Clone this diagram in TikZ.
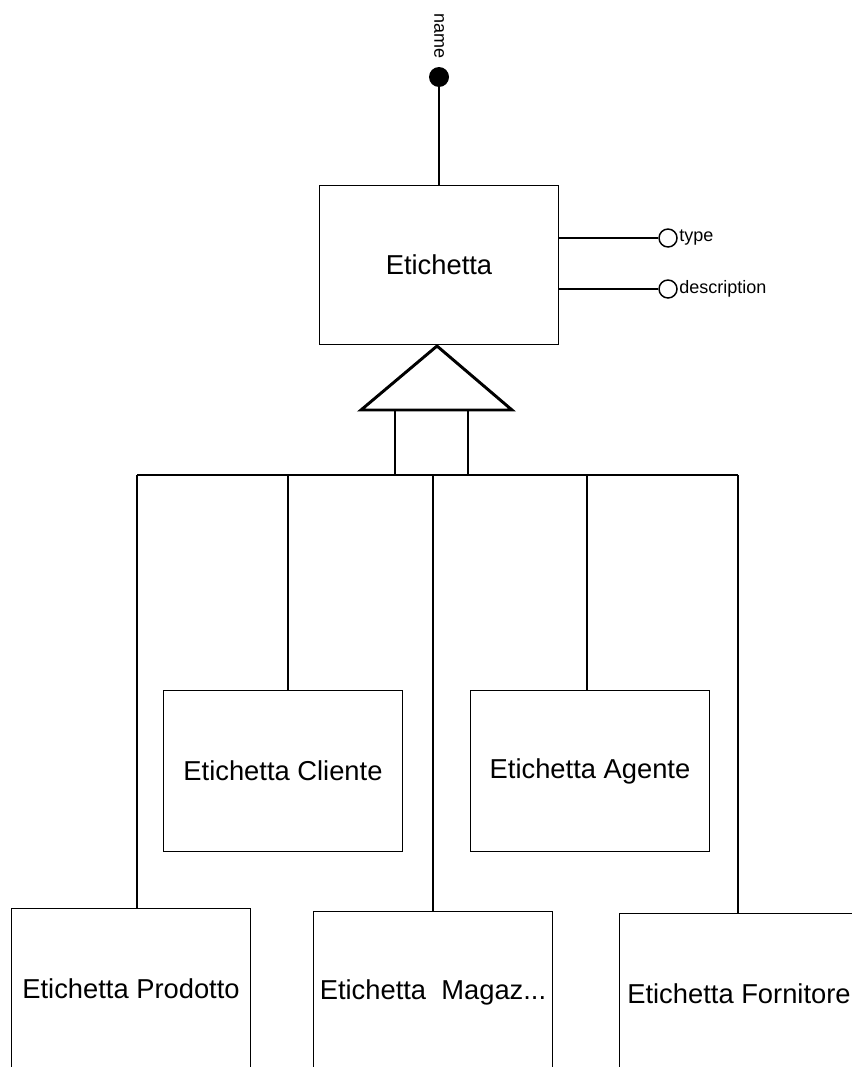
\documentclass[tikz,border=0pt]{standalone}
\usepackage{fontspec}
\setmainfont{Liberation Sans}
\begin{document}
\begin{tikzpicture}[x=0.75pt,y=-0.75pt,
  box/.style={draw=black, line width=1.1pt, fill=white, minimum width=179pt, minimum height=120.5pt, inner sep=0pt, font=\fontsize{20.5}{24}\selectfont},
  link/.style={draw=black, line width=1.1pt},
  attr/.style={font=\fontsize{13.5}{16}\selectfont, inner sep=0pt},
  opendot/.style={circle, draw=black, line width=1.1pt, fill=white, minimum size=13.5pt, inner sep=0pt},
  fulldot/.style={circle, fill=black, minimum size=15pt, inner sep=0pt},
  isa/.style={draw=black, line width=2.2pt, line join=miter}]
\useasboundingbox (0,0) rectangle (852,1067);
\clip (0,0) rectangle (852,1067);
\fill[white] (0,0) rectangle (852,1067);

% main entity
\node[box, minimum height=119pt] (et) at (439,265) {Etichetta};

% identifier
\node[fulldot] (nd) at (439,77) {};
\node[attr, rotate=-90] (nl) at (439,36) {name};
\draw[link] (nd) -- (nd |- et.north);

% attributes
\node[opendot] (td) at (668,238) {};
\node[attr, anchor=west] (tl) at (679,238) {type};
\node[opendot] (dd) at (668,289) {};
\node[attr, anchor=west] (dl) at (679,289) {description};
\draw[link] (td -| et.east) -- (td);
\draw[link] (dd -| et.east) -- (dd);

% generalization symbol
\coordinate (apex) at (437,346);
\coordinate (bl) at (361,410);
\coordinate (br) at (512,410);
\draw[isa] (apex) -- (br) -- (bl) -- cycle;
\draw[link] (395,410) rectangle (468,475);
\draw[draw=black, line width=2pt] (395,475) -- (468,475);

% bus
\coordinate (b1) at (137,475);
\coordinate (b2) at (288,475);
\coordinate (b3) at (433,475);
\coordinate (b4) at (587,475);
\coordinate (b5) at (738,475);
\draw[link] (b1) -- (b5);

% child entities
\node[box] (cli) at (283,771) {Etichetta Cliente};
\node[box] (age) at (590,771) {Etichetta Agente};
\node[box] (pro) at (131,989) {Etichetta Prodotto};
\node[box] (mag) at (433,992) {Etichetta\ \ Magaz...};
\node[box] (for) at (739,994) {Etichetta Fornitore};

\draw[link] (b1) -- (b1 |- pro.north);
\draw[link] (b2) -- (b2 |- cli.north);
\draw[link] (b3) -- (b3 |- mag.north);
\draw[link] (b4) -- (b4 |- age.north);
\draw[link] (b5) -- (b5 |- for.north);
\end{tikzpicture}
\end{document}
